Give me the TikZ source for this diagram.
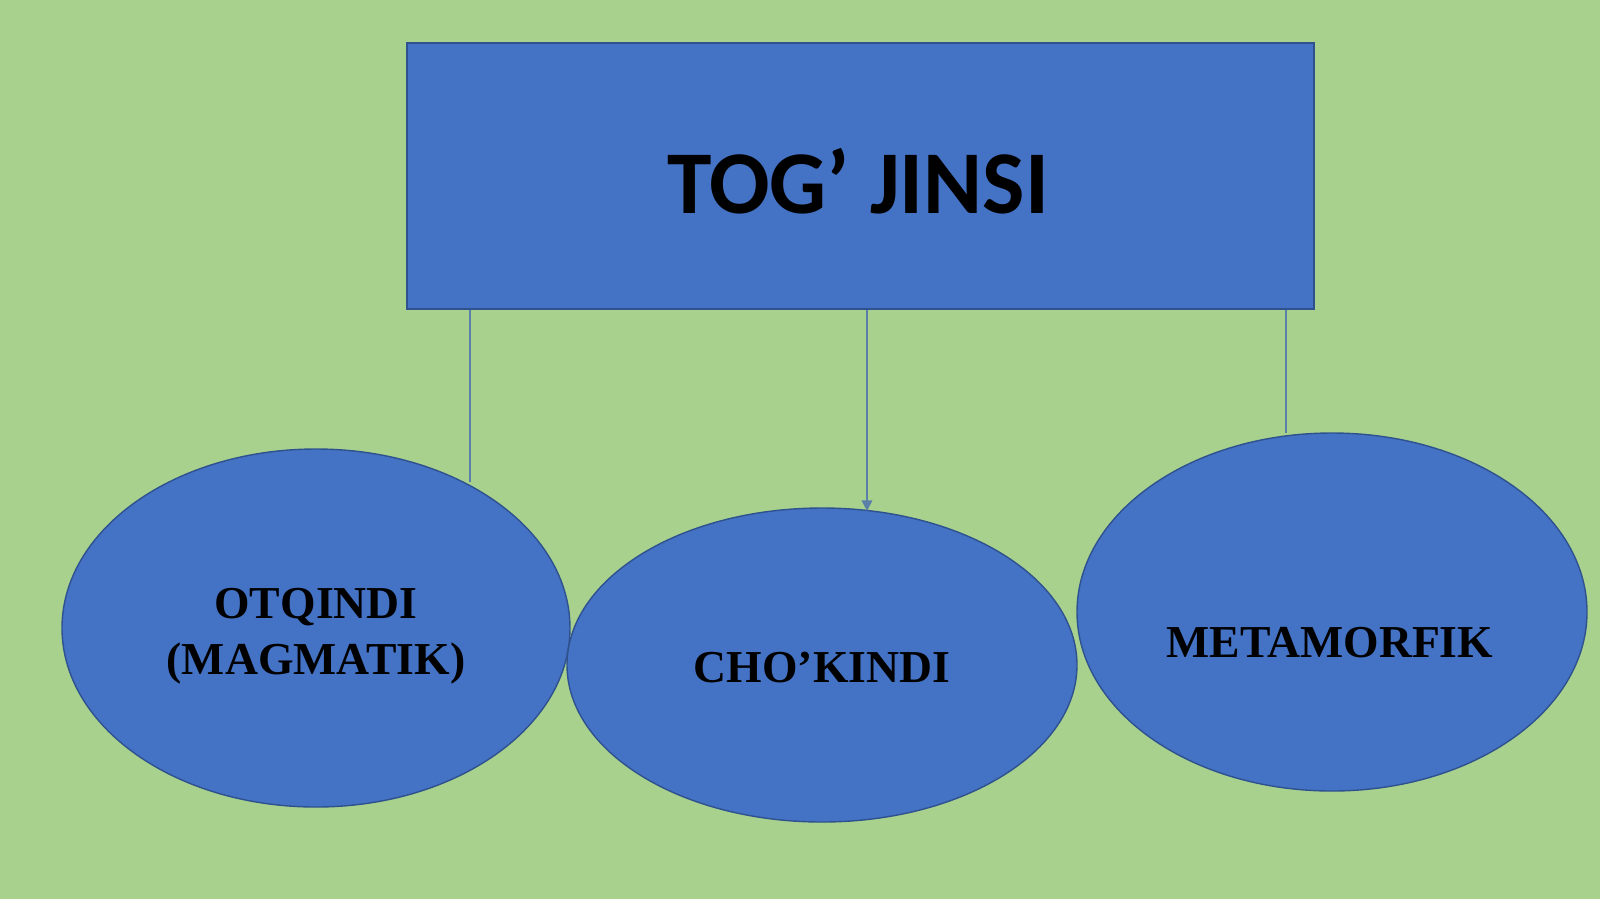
\documentclass[tikz,border=0pt]{standalone}
\usepackage{fontspec}
\setmainfont{Liberation Serif}
\newfontfamily\titlefont{Carlito}
\usetikzlibrary{shapes.geometric,arrows.meta}
\definecolor{bggreen}{HTML}{A9D18E}
\definecolor{fillblue}{HTML}{4472C4}
\definecolor{edgeblue}{HTML}{2F528F}
\definecolor{linkblue}{HTML}{5A7FA8}
\tikzset{
  titlebox/.style={draw=edgeblue, line width=0.5pt, fill=fillblue},
  rockoval/.style={draw=edgeblue, line width=0.4pt, fill=fillblue},
  rocklabel/.style={font=\fontsize{13}{16}\selectfont\bfseries, text=black, align=center, inner sep=0pt},
  link/.style={draw=linkblue, line width=0.45pt},
}
\begin{document}
\begin{tikzpicture}[x=0.1mm,y=-0.1mm]
\fill[bggreen] (0,0) rectangle (1600,899);
\useasboundingbox (0,0) rectangle (1600,899);
% ellipses
\fill[rockoval] (316,628) ellipse [x radius=254, y radius=179];
\fill[rockoval] (822,665) ellipse [x radius=255, y radius=157];
\fill[rockoval] (1332,612) ellipse [x radius=255, y radius=179];
\coordinate (e1) at (470,482);
\coordinate (e2) at (867,511);
\coordinate (e3) at (1286,433);
% title box
\filldraw[titlebox] (407,43) rectangle (1314,309);
\node[inner sep=0pt, font=\titlefont\fontsize{25.5}{30}\selectfont\bfseries] (title) at (858,181) {TOG’ JINSI};
\coordinate (b1) at (470,310);
\coordinate (b2) at (867,310);
\coordinate (b3) at (1286,310);
\draw[link] (b1) -- (e1);
\draw[link, -{Triangle[length=3pt,width=3pt]}] (b2) -- (e2);
\draw[link] (b3) -- (e3);
% labels
\node[rocklabel] (otq) at (316,636) {OTQINDI\\(MAGMATIK)};
\node[rocklabel] (cho) at (822,668) {CHO’KINDI};
\node[rocklabel] (met) at (1330,643) {METAMORFIK};
\end{tikzpicture}
\end{document}
